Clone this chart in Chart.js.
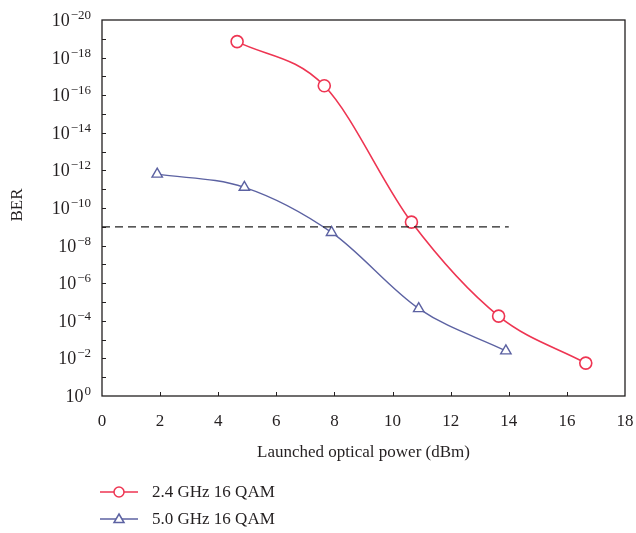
<!DOCTYPE html>
<html>
<head>
<meta charset="utf-8">
<script src="https://cdn.jsdelivr.net/npm/chart.js@4.4.1/dist/chart.umd.min.js"></script>
<style>
  html, body { margin: 0; padding: 0; background: #fff; }
  #wrap { width: 636px; height: 533px; position: relative; }
</style>
</head>
<body>
<div id="wrap"><canvas id="chart"></canvas></div>
<script>
// BER plotted as -log10(BER), so 0 = 10^0 at the bottom, 20 = 10^-20 on top
var seriesNames = ['2.4 GHz 16 QAM', '5.0 GHz 16 QAM'];
var powerA = [4.65, 7.65, 10.65, 13.65, 16.65];
var berExpA = [18.85, 16.5, 9.25, 4.25, 1.75];
var powerB = [1.9, 4.9, 7.9, 10.9, 13.9];
var berExpB = [11.8, 11.1, 8.7, 4.65, 2.4];
var thresholdX = [0, 14];
var thresholdExp = 9;
var xTicks = [0, 2, 4, 6, 8, 10, 12, 14, 16, 18];
var yTicks = [0, 2, 4, 6, 8, 10, 12, 14, 16, 18, 20];

var red = '#ee3552';
var blue = '#5c62a2';
var ink = '#231f20';
var serif = '"Liberation Serif", "DejaVu Serif", serif';

function pts(xs, ys) {
  return xs.map(function (x, i) { return { x: x, y: ys[i] }; });
}

var framePlugin = {
  id: 'frame',
  afterDraw: function (chart) {
    var ctx = chart.ctx, a = chart.chartArea;
    var xs = chart.scales.x, ys = chart.scales.y;
    ctx.save();
    ctx.strokeStyle = ink;
    ctx.lineWidth = 1.3;
    ctx.strokeRect(a.left, a.top, a.right - a.left, a.bottom - a.top);

    // inward ticks
    ctx.lineWidth = 1;
    ctx.beginPath();
    for (var v = 1; v < 20; v++) {
      var py = Math.round(ys.getPixelForValue(v)) + 0.5;
      ctx.moveTo(a.left, py); ctx.lineTo(a.left + 4, py);
    }
    xTicks.forEach(function (t) {
      if (t === 0 || t === 18) return;
      var px = Math.round(xs.getPixelForValue(t)) + 0.5;
      ctx.moveTo(px, a.bottom); ctx.lineTo(px, a.bottom - 4);
    });
    ctx.stroke();

    ctx.fillStyle = ink;
    // x tick labels
    ctx.font = '17px ' + serif;
    ctx.textAlign = 'center';
    ctx.textBaseline = 'middle';
    xTicks.forEach(function (t) {
      ctx.fillText(String(t), xs.getPixelForValue(t), a.bottom + 26);
    });

    // y tick labels 10^-n
    yTicks.forEach(function (t) {
      var py = ys.getPixelForValue(t);
      var sup = t === 0 ? '0' : '\u2212' + t;
      ctx.font = '13px ' + serif;
      var sw = ctx.measureText(sup).width;
      ctx.textAlign = 'left';
      ctx.textBaseline = 'alphabetic';
      var right = 91;
      ctx.fillText(sup, right - sw, py - 1);
      ctx.font = '18px ' + serif;
      ctx.textAlign = 'right';
      ctx.fillText('10', right - sw - 1, py + 6);
    });

    // axis titles
    ctx.font = '17px ' + serif;
    ctx.textAlign = 'center';
    ctx.textBaseline = 'middle';
    ctx.fillText('Launched optical power (dBm)', (a.left + a.right) / 2, a.bottom + 57);
    ctx.save();
    ctx.translate(18, 205);
    ctx.rotate(-Math.PI / 2);
    ctx.fillText('BER', 0, 0);
    ctx.restore();

    // legend
    var rows = [
      { name: seriesNames[0], color: red, style: 'circle', y: 492 },
      { name: seriesNames[1], color: blue, style: 'triangle', y: 519 }
    ];
    rows.forEach(function (r) {
      ctx.strokeStyle = r.color;
      ctx.lineWidth = 1.5;
      ctx.beginPath();
      ctx.moveTo(100, r.y); ctx.lineTo(138, r.y);
      ctx.stroke();
      ctx.fillStyle = '#fff';
      ctx.beginPath();
      if (r.style === 'circle') {
        ctx.arc(119, r.y, 5, 0, Math.PI * 2);
      } else {
        ctx.moveTo(119, r.y - 5); ctx.lineTo(124, r.y + 3.5); ctx.lineTo(114, r.y + 3.5); ctx.closePath();
      }
      ctx.fill(); ctx.stroke();
      ctx.fillStyle = ink;
      ctx.textAlign = 'left';
      ctx.fillText(r.name, 152, r.y + 1);
    });
    ctx.restore();
  }
};

new Chart(document.getElementById('chart'), {
  type: 'scatter',
  data: {
    datasets: [
      {
        label: 'threshold',
        data: pts(thresholdX, [thresholdExp, thresholdExp]),
        showLine: true,
        borderColor: '#222',
        borderWidth: 1.3,
        borderDash: [8, 5],
        pointRadius: 0
      },
      {
        label: seriesNames[0],
        data: pts(powerA, berExpA),
        showLine: true,
        cubicInterpolationMode: 'monotone',
        borderColor: red,
        borderWidth: 1.6,
        pointStyle: 'circle',
        pointRadius: 6,
        pointBorderWidth: 1.6,
        pointBackgroundColor: '#fff',
        pointBorderColor: red
      },
      {
        label: seriesNames[1],
        data: pts(powerB, berExpB),
        showLine: true,
        cubicInterpolationMode: 'monotone',
        borderColor: blue,
        borderWidth: 1.4,
        pointStyle: 'triangle',
        pointRadius: 6,
        pointBorderWidth: 1.4,
        pointBackgroundColor: '#fff',
        pointBorderColor: blue
      }
    ]
  },
  options: {
    responsive: true,
    maintainAspectRatio: false,
    animation: false,
    layout: { padding: { left: 94, right: 11, top: 20, bottom: 129 } },
    plugins: { legend: { display: false }, tooltip: { enabled: false } },
    scales: {
      x: {
        type: 'linear', min: 0, max: 18,
        ticks: { display: false, stepSize: 2 },
        grid: { display: false },
        border: { display: false }
      },
      y: {
        type: 'linear', min: 0, max: 20,
        ticks: { display: false, stepSize: 1 },
        grid: { display: false },
        border: { display: false }
      }
    }
  },
  plugins: [framePlugin]
});
</script>
</body>
</html>
